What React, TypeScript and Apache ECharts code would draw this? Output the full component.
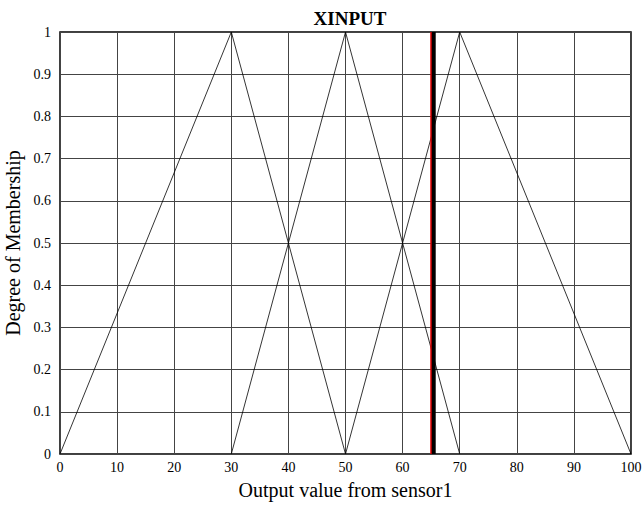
import React, { useEffect, useRef } from "react";
import * as echarts from "echarts";

const xTicks = [0, 10, 20, 30, 40, 50, 60, 70, 80, 90, 100];
const mf1: [number, number][] = [[0, 0], [30, 1], [50, 0]];
const mf2: [number, number][] = [[30, 0], [50, 1], [70, 0]];
const mf3: [number, number][] = [[50, 0], [70, 1], [100, 0]];
const redLineX = 65.1;
const blackLineX = 65.45;

export default function App() {
  const ref = useRef<HTMLDivElement>(null);
  useEffect(() => {
    if (!ref.current) return;
    const chart = echarts.init(ref.current, null, { renderer: "svg" });
    const font = "Liberation Serif";
    const thin = { color: "#000", width: 0.8 };
    chart.setOption({
      animation: false,
      backgroundColor: "#fff",
      title: {
        text: "XINPUT",
        left: 345,
        textAlign: "center",
        top: 4,
        textStyle: { fontFamily: font, fontWeight: "bold", fontSize: 19, color: "#000" },
      },
      grid: {
        left: 60, right: 12, top: 32, bottom: 51,
        outerBoundsMode: "none",
        containLabel: false,
        show: true, borderColor: "#000", borderWidth: 1.5, backgroundColor: "transparent",
      },
      xAxis: {
        type: "value", min: 0, max: 100, interval: 10,
        name: "Output value from sensor1", nameLocation: "middle", nameGap: 26,
        nameTextStyle: { fontFamily: font, fontSize: 20, color: "#000" },
        axisLine: { show: false },
        axisTick: { show: false },
        axisLabel: { fontFamily: font, fontSize: 14, color: "#000", margin: 6 },
        splitLine: { show: true, lineStyle: { color: "#444", width: 1 } },
      },
      yAxis: {
        type: "value", min: 0, max: 1, interval: 0.1,
        name: "Degree of Membership", nameLocation: "middle", nameGap: 35,
        nameTextStyle: { fontFamily: font, fontSize: 20, color: "#000" },
        axisLine: { show: false },
        axisTick: { show: false },
        axisLabel: { fontFamily: font, fontSize: 14, color: "#000", margin: 9 },
        splitLine: { show: true, lineStyle: { color: "#444", width: 1 } },
      },
      series: [
        { type: "line", data: mf1, symbol: "none", lineStyle: thin },
        { type: "line", data: mf2, symbol: "none", lineStyle: thin },
        { type: "line", data: mf3, symbol: "none", lineStyle: thin },
        { type: "line", data: [[redLineX, 0], [redLineX, 1]], symbol: "none", lineStyle: { color: "#e00000", width: 3 } },
        { type: "line", data: [[blackLineX, 0], [blackLineX, 1]], symbol: "none", lineStyle: { color: "#000", width: 4 } },
      ],
    });
    return () => chart.dispose();
  }, []);
  return <div ref={ref} style={{ width: 643, height: 505, position: "absolute", left: 0, top: 0 }} />;
}
